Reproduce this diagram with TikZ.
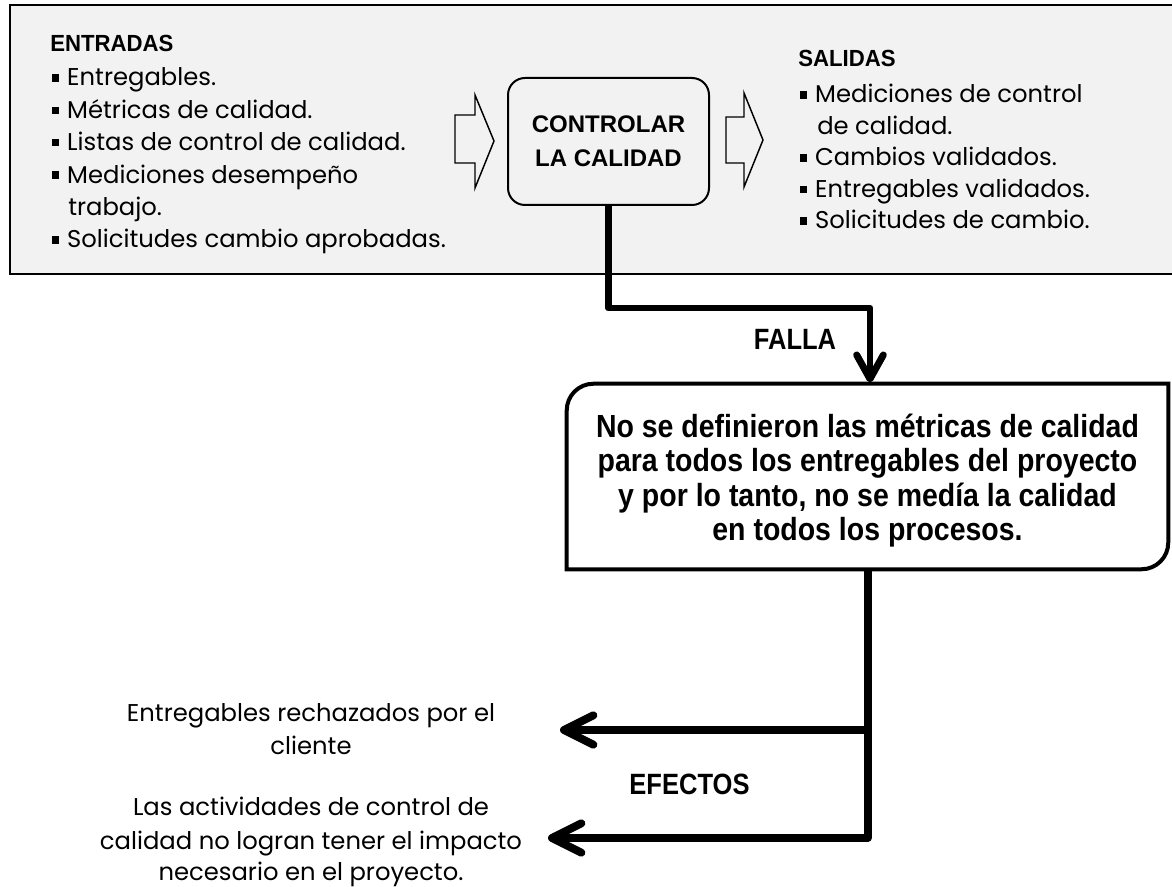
\documentclass[tikz,border=0pt]{standalone}
\usepackage{fontspec}
\setmainfont{Poppins}
\newfontfamily\arialfont{Liberation Sans}
\newfontfamily\labfont[FakeStretch=0.87]{Liberation Sans}
\newfontfamily\hdfont[FakeStretch=0.95]{Liberation Sans}
\newfontfamily\causefont[FakeStretch=0.89]{Liberation Sans}
\usetikzlibrary{arrows.meta}
\definecolor{bggray}{HTML}{F2F2F2}
\newcommand\blt{\rule[0.18em]{5.2pt}{5.6pt}\hspace{6pt}}
\begin{document}
\begin{tikzpicture}[x=0.75pt,y=-0.75pt,
  bodytxt/.style={font=\fontsize{18.2pt}{21pt}\selectfont, inner sep=0pt, anchor=base west},
  centtxt/.style={font=\fontsize{18.2pt}{21pt}\selectfont, inner sep=0pt, anchor=base},
  headtxt/.style={font=\hdfont\bfseries\fontsize{17.5pt}{21pt}\selectfont, inner sep=0pt, anchor=base west},
  labtxt/.style={font=\labfont\bfseries\fontsize{22pt}{24pt}\selectfont, inner sep=0pt, anchor=base},
  ctrlbox/.style={draw, line width=1.5pt, fill=bggray, rounded corners=12.75pt,
    minimum width=150.75pt, minimum height=95.25pt, align=center, inner sep=0pt,
    font=\arialfont\bfseries\fontsize{18pt}{25.5pt}\selectfont},
  causebox/.style={minimum width=450.75pt, minimum height=138.75pt, inner sep=0pt},
  causetext/.style={align=center, inner sep=0pt,
    font=\causefont\bfseries\fontsize{24pt}{25.9pt}\selectfont},
  hollow/.style={draw, line width=1.1pt, fill=bggray, line join=miter},
  conn/.style={line width=5.2pt, line join=round, -{Straight Barb[length=18pt,width=20pt,round]}},
  effarrow/.style={line width=6pt, line join=round, -{Straight Barb[length=22pt,width=22pt,round]}}]
\useasboundingbox (0,0) rectangle (1172,887);

% background panel
\draw[line width=1.1pt, fill=bggray] (10,5) rectangle (1185,274);

% inputs
\node[headtxt] (entradas) at (50,52) {ENTRADAS};
\node[bodytxt] (in1) at (52,86) {\blt Entregables.};
\node[bodytxt] (in2) at (52,118.4) {\blt Métricas de calidad.};
\node[bodytxt] (in3) at (52,150.8) {\blt Listas de control de calidad.};
\node[bodytxt] (in4) at (52,183.2) {\blt Mediciones desempeño};
\node[bodytxt] (in4b) at (68,215.6) {trabajo.};
\node[bodytxt] (in5) at (52,248) {\blt Solicitudes cambio aprobadas.};

% outputs
\node[headtxt] (salidas) at (798,67) {SALIDAS};
\node[bodytxt] (out1) at (800,103) {\blt Mediciones de control};
\node[bodytxt] (out1b) at (817,134.5) {de calidad.};
\node[bodytxt] (out2) at (800,166) {\blt Cambios validados.};
\node[bodytxt] (out3) at (800,197.5) {\blt Entregables validados.};
\node[bodytxt] (out4) at (800,229) {\blt Solicitudes de cambio.};

% hollow block arrows
\draw[hollow] (455,115) -- (475,115) -- (475,95) -- (494,141) -- (475,188) -- (475,163) -- (455,163) -- cycle;
\draw[hollow] (726,117) -- (744,117) -- (744,93) -- (763,140) -- (744,187) -- (744,163) -- (726,163) -- cycle;

% process box
\node[ctrlbox] (ctrl) at (608.5,141.5) {CONTROLAR\\LA CALIDAD};

% cause box
\node[causebox] (cause) at (867.5,476.5) {};
\draw[line width=3pt, fill=white] (cause.south west) -- ([yshift=-20pt]cause.north west)
  arc[start angle=180, end angle=90, radius=20pt] -- (cause.north east)
  -- ([yshift=20pt]cause.south east) arc[start angle=0, end angle=-90, radius=20pt] -- cycle;
\node[causetext] (causetxt) at ([yshift=-3pt]cause.center) {No se definieron las métricas de calidad\\para todos los entregables del proyecto\\y por lo tanto, no se medía la calidad\\en todos los procesos.};

% failure connector
\coordinate (bend) at (870,308);
\draw[conn, shorten >=1pt] (ctrl.south) |- (bend) -- (bend |- cause.north);
\node[labtxt] (falla) at (795,350) {FALLA};

% effects
\coordinate (j1) at (867.5,730);
\coordinate (corner) at (867.5,838);
\coordinate (t1) at (560,730);
\coordinate (t2) at (548,838);
\draw[effarrow] (cause.south) -- (corner) -- (t2);
\draw[effarrow] (j1) -- (t1);
\node[labtxt] (efectos) at (689.5,795) {EFECTOS};

\node[centtxt] (e1a) at (311,722) {Entregables rechazados por el};
\node[centtxt] (e1b) at (311,755) {cliente};
\node[centtxt] (e2a) at (311,816) {Las actividades de control de};
\node[centtxt] (e2b) at (311,849) {calidad no logran tener el impacto};
\node[centtxt] (e2c) at (311,880) {necesario en el proyecto.};
\end{tikzpicture}
\end{document}
